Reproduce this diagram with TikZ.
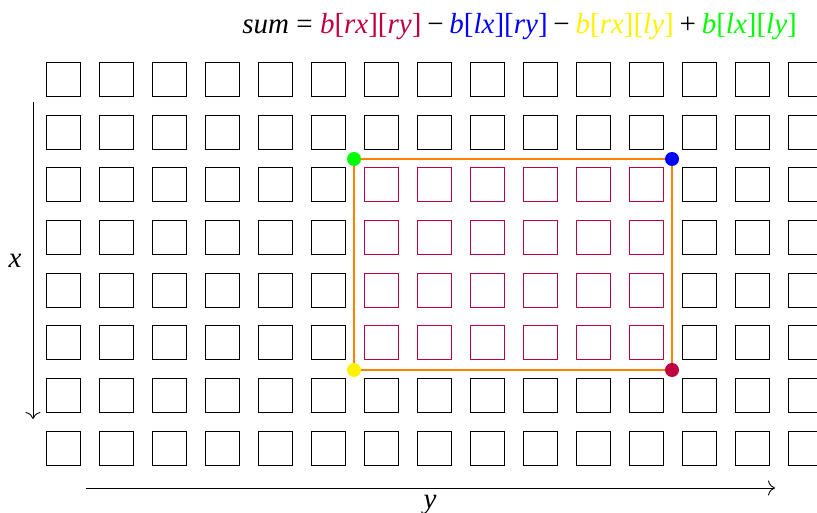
\documentclass[tikz,border=0pt]{standalone}
\usepackage{fontspec}
\setmainfont{Liberation Serif}
\usetikzlibrary{arrows.meta}
\tikzset{
  cellblack/.style={draw=black, line width=0.9pt, minimum size=34pt, inner sep=0pt, outer sep=0pt},
  cellpink/.style={draw=purple, line width=0.9pt, minimum size=34pt, inner sep=0pt, outer sep=0pt},
  cornerdot/.style={circle, fill=#1, minimum size=14pt, inner sep=0pt},
  frameline/.style={draw=orange, line width=2.4pt},
  axisarrow/.style={draw=black, line width=0.9pt, -{To[length=7pt,width=15pt]}},
  biglabel/.style={font=\fontsize{29}{35}\selectfont, inner sep=0pt}
}
\begin{document}
\begin{tikzpicture}[x=1pt, y=-1pt]
\useasboundingbox (0,0) rectangle (817,513);
\foreach \i in {0,...,14}{
  \foreach \j in {0,...,7}{
    \def\cc{cellblack}
    \ifnum\i>5 \ifnum\i<12 \ifnum\j>1 \ifnum\j<6 \def\cc{cellpink}\fi\fi\fi\fi
    \node[\cc] (c-\i-\j) at ({63.2+53*\i},{79.3+52.7*\j}) {};
  }
}
\coordinate (tl) at (354,159);
\coordinate (tr) at (672,159);
\coordinate (bl) at (354,370);
\coordinate (br) at (672,370);
\draw[frameline] (tl) -- (tr) -- (br) -- (bl) -- cycle;
\node[cornerdot=green] (dg) at (tl) {};
\node[cornerdot=blue] (db) at (tr) {};
\node[cornerdot=yellow] (dy) at (bl) {};
\node[cornerdot=purple] (dp) at (br) {};
\coordinate (vs) at (33,102);
\coordinate (ve) at (33,419);
\coordinate (hs) at (86,488);
\coordinate (he) at (775,488);
\draw[axisarrow] (vs) -- (ve);
\draw[axisarrow] (hs) -- (he);
\node[biglabel, anchor=base] (lx) at (15,268) {\textit{x}};
\node[biglabel, anchor=base] (ly) at (430,508) {\textit{y}};
\node[biglabel, anchor=base east] (formula) at (797,34) {\textit{sum}\hspace{0.25em}=\hspace{0.25em}\textcolor{purple}{\textit{b}[\textit{rx}][\textit{ry}]}\hspace{0.2em}−\hspace{0.2em}\textcolor{blue}{\textit{b}[\textit{lx}][\textit{ry}]}\hspace{0.2em}−\hspace{0.2em}\textcolor{yellow}{\textit{b}[\textit{rx}][\textit{ly}]}\hspace{0.2em}+\hspace{0.2em}\textcolor{green}{\textit{b}[\textit{lx}][\textit{ly}]}};
\end{tikzpicture}
\end{document}
